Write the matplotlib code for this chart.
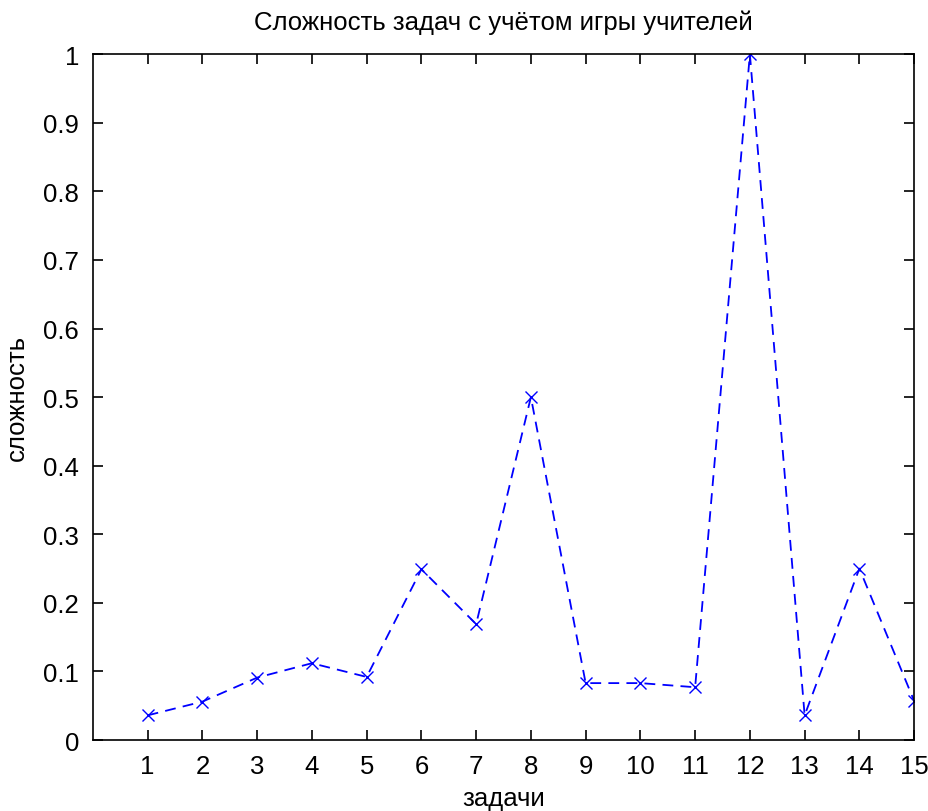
"""Task difficulty accounting for teachers' game (MATLAB-style line plot)."""

import matplotlib
matplotlib.use("Agg")
import matplotlib.pyplot as plt

tasks = list(range(1, 16))
difficulty = [0.036, 0.056, 0.091, 0.112, 0.092, 0.249, 0.169, 0.5,
              0.083, 0.083, 0.077, 1.0, 0.036, 0.25, 0.057]
y_ticks = [0, 0.1, 0.2, 0.3, 0.4, 0.5, 0.6, 0.7, 0.8, 0.9, 1]
y_tick_labels = ["0", "0.1", "0.2", "0.3", "0.4", "0.5", "0.6", "0.7", "0.8", "0.9", "1"]


def main() -> None:
    plt.rcParams["font.family"] = ["Liberation Sans", "DejaVu Sans"]
    plt.rcParams["font.size"] = 18.5

    fig = plt.figure(figsize=(9.29, 8.12), dpi=100)
    ax = fig.add_axes([0.1, 0.0874, 0.884, 0.8446])

    ax.plot(tasks, difficulty, linestyle="--", color="#0000ff", marker="x",
            markersize=8, linewidth=1.3, dashes=(6, 4))

    ax.set_xlim(0, 15)
    ax.set_ylim(0, 1)
    ax.set_xticks(tasks)
    ax.set_yticks(y_ticks)
    ax.set_yticklabels(y_tick_labels)
    ax.tick_params(direction="in", length=7, width=1.2, top=True, right=True,
                   pad=10)
    for spine in ax.spines.values():
        spine.set_linewidth(1.2)

    ax.set_title("Сложность задач с учётом игры учителей", fontsize=18.5, pad=18)
    ax.set_xlabel("задачи", labelpad=6)
    ax.set_ylabel("сложность", labelpad=10)

    fig.savefig("out.png", dpi=100)
    plt.close(fig)


if __name__ == "__main__":
    main()
